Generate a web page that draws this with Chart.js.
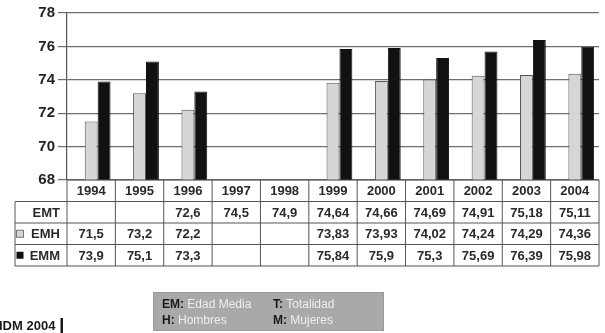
<!DOCTYPE html>
<html>
<head>
<meta charset="utf-8">
<script src="https://cdn.jsdelivr.net/npm/chart.js@4/dist/chart.umd.min.js"></script>
<style>
  body { margin: 0; background: #fff; }
  canvas { display: block; }
</style>
</head>
<body>
<canvas id="grafica" width="605" height="333"></canvas>
<script>
// Edad media por año (EMT total, EMH hombres, EMM mujeres)
const anios = ["1994", "1995", "1996", "1997", "1998", "1999", "2000", "2001", "2002", "2003", "2004"];
const emt = [null, null, 72.6, 74.5, 74.9, 74.64, 74.66, 74.69, 74.91, 75.18, 75.11];
const emh = [71.5, 73.2, 72.2, null, null, 73.83, 73.93, 74.02, 74.24, 74.29, 74.36];
const emm = [73.9, 75.1, 73.3, null, null, 75.84, 75.9, 75.3, 75.69, 76.39, 75.98];
const ejeY = [68, 70, 72, 74, 76, 78];

const filasTabla = [
    { nombre: "EMT", datos: emt, icono: null },
    { nombre: "EMH", datos: emh, icono: "#d6d6d6" },
    { nombre: "EMM", datos: emm, icono: "#111" }
];

const leyenda = [
    ["EM:", " Edad Media"], ["T:", " Totalidad"],
    ["H:", " Hombres"], ["M:", " Mujeres"]
];

const formato = (v) => v == null ? "" : String(v).replace(".", ",");

// tabla de datos bajo el gráfico + recuadro de siglas
const tablaPlugin = {
    id: "tabla",
    afterDraw(chart) {
        const { ctx, scales: { x }, chartArea } = chart;
        const ancho = (x.right - x.left) / anios.length;
        const alto = 21.5;
        const y0 = chartArea.bottom;
        const izq = 15;

        ctx.save();
        ctx.strokeStyle = "#555";
        ctx.lineWidth = 1;
        ctx.beginPath();
        ctx.moveTo(x.left, y0);
        ctx.lineTo(x.right, y0);
        for (let r = 1; r <= 4; r++) {
            ctx.moveTo(izq, y0 + r * alto);
            ctx.lineTo(x.right, y0 + r * alto);
        }
        for (let i = 0; i <= anios.length; i++) {
            ctx.moveTo(x.left + i * ancho, y0);
            ctx.lineTo(x.left + i * ancho, y0 + 4 * alto);
        }
        ctx.moveTo(izq, y0 + alto);
        ctx.lineTo(izq, y0 + 4 * alto);
        ctx.stroke();

        ctx.fillStyle = "#2a2a2a";
        ctx.font = "bold 13px Arial, 'Liberation Sans', sans-serif";
        ctx.textAlign = "center";
        ctx.textBaseline = "middle";
        anios.forEach((a, i) => ctx.fillText(a, x.getPixelForValue(i), y0 + alto / 2 + 1));

        filasTabla.forEach((f, r) => {
            const yc = y0 + (r + 1.5) * alto + 1;
            ctx.textAlign = "right";
            ctx.fillStyle = "#2a2a2a";
            ctx.fillText(f.nombre, 60, yc);
            if (f.icono) {
                ctx.fillStyle = f.icono;
                ctx.fillRect(16.5, yc - 4.5, 7, 7);
                if (f.icono !== "#111") {
                    ctx.strokeStyle = "#777";
                    ctx.strokeRect(16.5, yc - 4.5, 7, 7);
                }
            }
            ctx.fillStyle = "#2a2a2a";
            ctx.textAlign = "center";
            f.datos.forEach((v, i) => ctx.fillText(formato(v), x.getPixelForValue(i), yc));
        });

        // recuadro de siglas
        ctx.fillStyle = "#a9a9a9";
        ctx.fillRect(153, 292, 231, 39);
        ctx.strokeStyle = "#9a9a9a";
        ctx.strokeRect(153.5, 292.5, 230, 38);
        ctx.textAlign = "left";
        leyenda.forEach(([sigla, texto], k) => {
            const lx = k % 2 === 0 ? 162 : 273;
            const ly = k < 2 ? 305 : 321;
            ctx.font = "bold 12px Arial, 'Liberation Sans', sans-serif";
            ctx.fillStyle = "#1a1a1a";
            ctx.fillText(sigla, lx, ly);
            const w = ctx.measureText(sigla).width;
            ctx.font = "12px Arial, 'Liberation Sans', sans-serif";
            ctx.fillStyle = "#eeeeee";
            ctx.fillText(texto, lx + w, ly);
        });

        ctx.font = "bold 13px Arial, 'Liberation Sans', sans-serif";
        ctx.fillStyle = "#1a1a1a";
        ctx.fillText("IDM 2004", -1, 326);
        ctx.fillRect(60.5, 318, 2.5, 15);
        ctx.restore();
    }
};

new Chart(document.querySelector("#grafica"), {
    type: "bar",
    data: {
        labels: anios,
        datasets: [
            { label: "EMT", data: emt, backgroundColor: "rgba(0,0,0,0)" },
            { label: "EMH", data: emh, backgroundColor: "#d6d6d6", borderColor: "#555", borderWidth: 1 },
            { label: "EMM", data: emm, backgroundColor: "#111", borderColor: "#111", borderWidth: 1 }
        ]
    },
    options: {
        responsive: false,
        animation: false,
        layout: { padding: { left: 0, right: 6, top: 13, bottom: 153 } },
        datasets: { bar: { categoryPercentage: 0.8, barPercentage: 1 } },
        plugins: { legend: { display: false }, tooltip: { enabled: false } },
        scales: {
            x: { display: false },
            y: {
                min: ejeY[0],
                max: ejeY[ejeY.length - 1],
                afterBuildTicks: (s) => { s.ticks = ejeY.map(v => ({ value: v })); },
                afterFit: (s) => { s.width = 67; },
                ticks: {
                    padding: 3,
                    color: "#222",
                    font: { family: "Arial, 'Liberation Sans', sans-serif", size: 15, weight: "bold" }
                },
                grid: { color: "#6e6e6e", lineWidth: 1.2, tickLength: 9 },
                border: { color: "#555", width: 1.2 }
            }
        }
    },
    plugins: [tablaPlugin]
});
</script>
</body>
</html>
